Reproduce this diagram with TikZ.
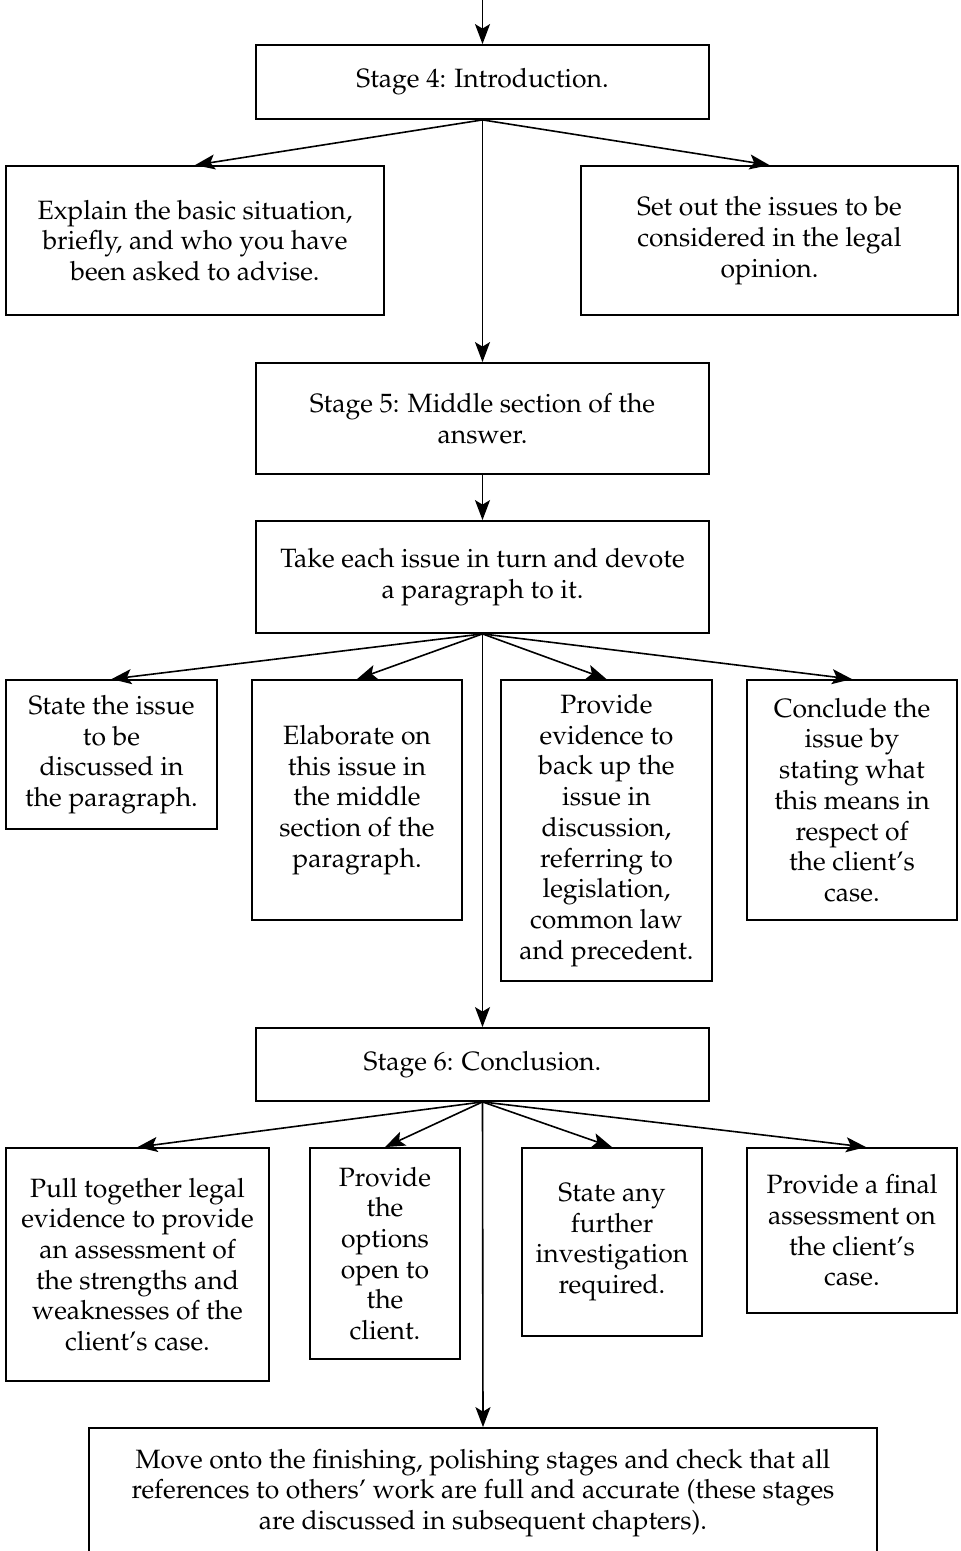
\documentclass[tikz,border=0pt]{standalone}
\usepackage[T1]{fontenc}
\usepackage{mathpazo}
\usetikzlibrary{arrows.meta}
\begin{document}
\begin{tikzpicture}[x=1pt,y=-1pt,
  box/.style={draw, line width=1.8pt, inner sep=0pt, align=center,
    font=\fontsize{26.5}{30.7}\selectfont},
  link/.style={line width=1.6pt, -{Stealth[length=20pt,width=15pt,inset=4.5pt]}},
]
\useasboundingbox (0,0) rectangle (961,1551);

% Stage 4
\coordinate (top) at (482.5,0);
\node[box, minimum width=453, minimum height=74] (s4) at (482.5,82) {Stage 4: Introduction.};
\node[box, minimum width=378, minimum height=149] (l1) at (195,240.5)
  {Explain the basic situation,\\ briefly, and who you have\\ been asked to advise.};
\node[box, minimum width=377, minimum height=149] (r1) at (769.5,240.5)
  {Set out the issues to be\\ considered in the legal\\ opinion.};

% Stage 5
\node[box, minimum width=453, minimum height=111] (s5) at (482.5,418.5)
  {Stage 5: Middle section of the\\ answer.};
\node[box, minimum width=453, minimum height=112] (tk) at (482.5,577)
  {Take each issue in turn and devote\\ a paragraph to it.};
\node[box, minimum width=211, minimum height=149] (pa) at (111.5,754.5)
  {State the issue\\ to be\\ discussed in\\ the paragraph.};
\node[box, minimum width=210, minimum height=240] (pb) at (357,800)
  {Elaborate on\\ this issue in\\ the middle\\ section of the\\ paragraph.};
\node[box, minimum width=211, minimum height=301] (pc) at (606.5,830.5)
  {Provide\\ evidence to\\ back up the\\ issue in\\ discussion,\\ referring to\\ legislation,\\ common law\\ and precedent.};
\node[box, minimum width=210, minimum height=240] (pd) at (852,800)
  {Conclude the\\ issue by\\ stating what\\ this means in\\ respect of\\ the client's\\ case.};

% Stage 6
\node[box, minimum width=453, minimum height=73] (s6) at (482.5,1064.5) {Stage 6: Conclusion.};
\node[box, minimum width=263, minimum height=233] (ca) at (137.5,1264.5)
  {Pull together legal\\ evidence to provide\\ an assessment of\\ the strengths and\\ weaknesses of the\\ client's case.};
\node[box, minimum width=150, minimum height=211] (cb) at (385,1253.5)
  {Provide\\ the\\ options\\ open to\\ the\\ client.};
\node[box, minimum width=180, minimum height=188] (cc) at (612,1242)
  {State any\\ further\\ investigation\\ required.};
\node[box, minimum width=210, minimum height=165] (cd) at (852,1230.5)
  {Provide a final\\ assessment on\\ the client's\\ case.};

% Final step
\node[box, minimum width=788, minimum height=130] (fin) at (483,1493)
  {Move onto the finishing, polishing stages and check that all\\ references to others' work are full and accurate (these stages\\ are discussed in subsequent chapters).};

% Connectors
\draw[link] (top) -- (s4.north);
\draw[link] (s4.south) -- (l1.north);
\draw[link] (s4.south) -- (r1.north);
\draw[link] (s4.south) -- (s5.north);
\draw[link] (s5.south) -- (tk.north);
\draw[link] (tk.south) -- (pa.north);
\draw[link] (tk.south) -- (pb.north);
\draw[link] (tk.south) -- (pc.north);
\draw[link] (tk.south) -- (pd.north);
\draw[link] (tk.south) -- (s6.north);
\draw[link] (s6.south) -- (ca.north);
\draw[link] (s6.south) -- (cb.north);
\draw[link] (s6.south) -- (cc.north);
\draw[link] (s6.south) -- ([xshift=14pt]cd.north);
\draw[link] (s6.south) -- (fin.north);
\end{tikzpicture}
\end{document}
